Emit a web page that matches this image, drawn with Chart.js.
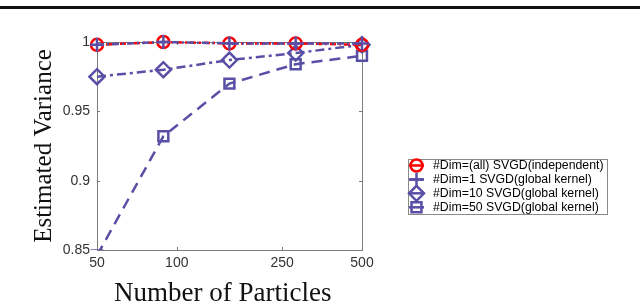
<!DOCTYPE html>
<html><head><meta charset="utf-8">
<script src="https://cdn.jsdelivr.net/npm/chart.js@4.4.0/dist/chart.umd.min.js"></script>
<style>
html,body{margin:0;padding:0;background:#fff;}
#wrap{position:relative;width:640px;height:304px;overflow:hidden;}
#rule{position:absolute;left:0;top:6px;width:640px;height:3px;background:#111;}
</style>
</head><body>
<div id="wrap"><canvas id="c" width="640" height="304"></canvas><div id="rule"></div></div>
<script>
// ---- data ----
const particles = [50, 89, 158, 281, 500];
const xTicks = [50, 100, 250, 500];
const yTicks = [0.85, 0.9, 0.95, 1];
const seriesLabels = [
  '#Dim=(all) SVGD(independent)',
  '#Dim=1 SVGD(global kernel)',
  '#Dim=10 SVGD(global kernel)',
  '#Dim=50 SVGD(global kernel)'
];
const independent = [0.998, 1.0, 0.999, 0.999, 0.998];
const dim1 = [0.998, 1.0, 0.999, 0.999, 0.999];
const dim10 = [0.975, 0.980, 0.987, 0.992, 0.998];
const dim50 = [0.846, 0.932, 0.970, 0.984, 0.990];

const RED = '#ff0000', PURPLE = '#5a4fa6';
const clip = {left: 12, top: 12, right: 12, bottom: 0};
function pts(arr){ return particles.map((x, i) => ({x: x, y: arr[i]})); }

const legendItems = [
  {label: seriesLabels[0], color: RED, style: 'circle', r: 6},
  {label: seriesLabels[1], color: PURPLE, style: 'cross', r: 7},
  {label: seriesLabels[2], color: PURPLE, style: 'rectRot', r: 7.5},
  {label: seriesLabels[3], color: PURPLE, style: 'rect', r: 7}
];

function marker(ctx, style, r, x, y){
  ctx.beginPath();
  if (style === 'circle') { ctx.arc(x, y, r, 0, Math.PI*2); }
  else if (style === 'cross') { ctx.moveTo(x-r, y); ctx.lineTo(x+r, y); ctx.moveTo(x, y-r); ctx.lineTo(x, y+r); }
  else if (style === 'rectRot') { ctx.moveTo(x, y-r); ctx.lineTo(x+r, y); ctx.lineTo(x, y+r); ctx.lineTo(x-r, y); ctx.closePath(); }
  else { const h = r*Math.SQRT1_2; ctx.rect(x-h, y-h, 2*h, 2*h); }
  ctx.stroke();
}

const framePlugin = {
  id: 'frame',
  beforeDatasetsDraw(chart){
    const {ctx, chartArea: a, scales} = chart;
    ctx.save();
    ctx.strokeStyle = '#7a7a7a';
    ctx.lineWidth = 1;
    ctx.strokeRect(Math.round(a.left)+0.5, Math.round(a.top)+0.5, Math.round(a.right-a.left), Math.round(a.bottom-a.top));
    ctx.beginPath();
    xTicks.forEach(v => {
      const px = Math.round(scales.x.getPixelForValue(v))+0.5;
      ctx.moveTo(px, a.bottom); ctx.lineTo(px, a.bottom-3);
      ctx.moveTo(px, a.top); ctx.lineTo(px, a.top+3);
    });
    yTicks.forEach(v => {
      const py = Math.round(scales.y.getPixelForValue(v))+0.5;
      ctx.moveTo(a.left, py); ctx.lineTo(a.left+3, py);
      ctx.moveTo(a.right, py); ctx.lineTo(a.right-3, py);
    });
    ctx.stroke();
    ctx.restore();
  },
  afterDraw(chart){
    const ctx = chart.ctx;
    ctx.save();
    const bx = 408.5, by = 159.5, bw = 199, bh = 55;
    ctx.fillStyle = '#fff';
    ctx.fillRect(bx, by, bw, bh);
    ctx.strokeStyle = '#8a8a8a';
    ctx.lineWidth = 1;
    ctx.strokeRect(bx, by, bw, bh);
    const ys = [165.5, 179.5, 193.3, 207.3];
    ctx.font = '12.3px "Liberation Sans", Arial, sans-serif';
    ctx.textBaseline = 'middle';
    legendItems.forEach((it, i) => {
      const y = ys[i];
      ctx.strokeStyle = it.color;
      ctx.lineWidth = 2.5;
      ctx.beginPath(); ctx.moveTo(409, y); ctx.lineTo(424, y); ctx.stroke();
      marker(ctx, it.style, it.r, 416.5, y);
      ctx.fillStyle = '#000';
      ctx.fillText(it.label, 433, y+0.5);
    });
    ctx.restore();
  }
};

const tickFont = {family: '"Liberation Sans", Arial, sans-serif', size: 14};

new Chart(document.getElementById('c'), {
  type: 'line',
  data: {
    datasets: [
      {label: seriesLabels[1], data: pts(dim1), borderColor: PURPLE, borderWidth: 2.5, borderDash: [7,3,2,3],
       pointStyle: 'cross', pointRadius: 7, pointBorderWidth: 2.5, pointBorderColor: PURPLE, pointBackgroundColor: 'rgba(0,0,0,0)', clip: clip, order: 0},
      {label: seriesLabels[0], data: pts(independent), borderColor: RED, borderWidth: 2.5, borderDash: [6,3,2,3], borderDashOffset: 5,
       pointStyle: 'circle', pointRadius: 6, pointBorderWidth: 2.5, pointBorderColor: RED, pointBackgroundColor: 'rgba(0,0,0,0)', clip: clip, order: 1},
      {label: seriesLabels[2], data: pts(dim10), borderColor: PURPLE, borderWidth: 2.5, borderDash: [9,4,3,4],
       pointStyle: 'rectRot', pointRadius: 7.5, pointBorderWidth: 2.5, pointBorderColor: PURPLE, pointBackgroundColor: 'rgba(0,0,0,0)', clip: clip, order: 2},
      {label: seriesLabels[3], data: pts(dim50), borderColor: PURPLE, borderWidth: 2.5, borderDash: [11,7],
       pointStyle: 'rect', pointRadius: 7, pointBorderWidth: 2.5, pointBorderColor: PURPLE, pointBackgroundColor: 'rgba(0,0,0,0)', clip: clip, order: 3}
    ]
  },
  options: {
    responsive: false,
    animation: false,
    events: [],
    layout: {padding: {top: 42, right: 278, bottom: 0, left: 0}},
    plugins: {legend: {display: false}, tooltip: {enabled: false}},
    elements: {line: {tension: 0, fill: false}},
    scales: {
      x: {
        type: 'logarithmic', min: 50, max: 500,
        afterBuildTicks: s => { s.ticks = xTicks.map(v => ({value: v})); },
        afterFit: s => { s.height = 54; },
        grid: {display: false, drawTicks: false},
        border: {display: false},
        ticks: {callback: v => String(v), font: tickFont, color: '#333', padding: 5, maxRotation: 0, autoSkip: false},
        title: {display: true, text: 'Number of Particles\u00A0\u00A0', color: '#111',
                font: {family: '"Liberation Serif", "Times New Roman", serif', size: 27, lineHeight: 0.75}, padding: 0}
      },
      y: {
        type: 'linear', min: 0.85, max: 1,
        afterBuildTicks: s => { s.ticks = yTicks.map(v => ({value: v})); },
        afterFit: s => { s.width = 97; },
        grid: {display: false, drawTicks: false},
        border: {display: false},
        ticks: {callback: v => String(+Number(v).toFixed(2)), font: tickFont, color: '#333', padding: 7},
        title: {display: true, text: 'Estimated Variance', color: '#111',
                font: {family: '"Liberation Serif", "Times New Roman", serif', size: 25, lineHeight: 1}, padding: {top: 32, bottom: 0}}
      }
    }
  },
  plugins: [framePlugin]
});
</script>
</body></html>
